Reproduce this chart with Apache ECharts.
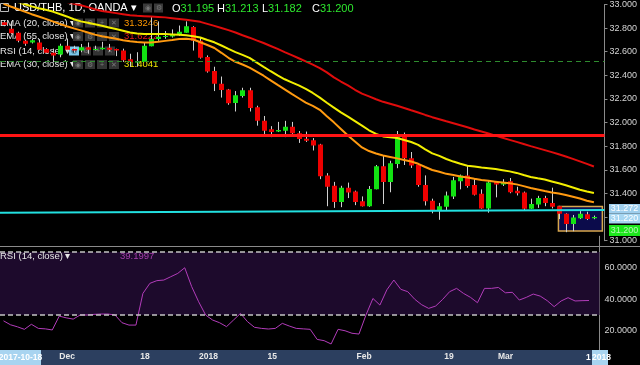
<!DOCTYPE html>
<html><head><meta charset="utf-8">
<script src="https://cdn.jsdelivr.net/npm/echarts/dist/echarts.min.js"></script>
<style>html,body{margin:0;padding:0;background:#000;}#c{width:640px;height:365px;}</style>
</head><body><div id="c"></div>
<script>
const dates = ['2017-11-20','2017-11-21','2017-11-22','2017-11-23','2017-11-24','2017-11-27','2017-11-28','2017-11-29','2017-11-30','2017-12-01',
'2017-12-04','2017-12-05','2017-12-06','2017-12-07','2017-12-08','2017-12-11','2017-12-12','2017-12-13','2017-12-14','2017-12-15',
'2017-12-18','2017-12-19','2017-12-20','2017-12-21','2017-12-22','2017-12-26','2017-12-27','2017-12-28','2017-12-29','2018-01-02',
'2018-01-03','2018-01-04','2018-01-05','2018-01-08','2018-01-09','2018-01-10','2018-01-11','2018-01-12','2018-01-15','2018-01-16',
'2018-01-17','2018-01-18','2018-01-19','2018-01-22','2018-01-23','2018-01-24','2018-01-25','2018-01-26','2018-01-29','2018-01-30',
'2018-01-31','2018-02-01','2018-02-02','2018-02-05','2018-02-06','2018-02-07','2018-02-08','2018-02-09','2018-02-12','2018-02-13',
'2018-02-14','2018-02-15','2018-02-16','2018-02-19','2018-02-20','2018-02-21','2018-02-22','2018-02-23','2018-02-26','2018-02-27',
'2018-02-28','2018-03-01','2018-03-02','2018-03-05','2018-03-06','2018-03-07','2018-03-08','2018-03-09','2018-03-12','2018-03-13',
'2018-03-14','2018-03-15','2018-03-16','2018-03-19','2018-03-20'];

const openP = [32.849,32.794,32.761,32.693,32.679,32.679,32.624,32.591,32.577,32.651,
32.624,32.610,32.638,32.616,32.621,32.633,32.624,32.610,32.536,32.517,
32.514,32.646,32.707,32.726,32.728,32.742,32.761,32.810,32.693,32.555,
32.437,32.330,32.281,32.166,32.226,32.273,32.130,32.015,31.943,31.924,
31.932,31.965,31.910,31.863,31.850,31.814,31.553,31.465,31.328,31.449,
31.416,31.334,31.292,31.435,31.630,31.498,31.649,31.883,31.698,31.644,
31.471,31.339,31.257,31.287,31.375,31.504,31.553,31.471,31.397,31.273,
31.498,31.476,31.504,31.422,31.408,31.270,31.306,31.361,31.320,31.292,
31.229,31.142,31.191,31.224,31.195];
const highP = [32.866,32.857,32.770,32.700,32.710,32.707,32.630,32.627,32.668,32.712,
32.651,32.666,32.679,32.651,32.684,32.666,32.626,32.626,32.583,32.596,
32.674,32.899,32.857,32.775,32.789,32.822,32.857,32.816,32.720,32.569,
32.473,32.390,32.285,32.267,32.295,32.295,32.143,32.056,31.970,32.006,
32.015,32.006,31.929,31.924,31.869,31.820,31.572,31.498,31.465,31.492,
31.424,31.375,31.463,31.641,31.723,31.677,31.929,31.916,31.751,31.650,
31.553,31.356,31.320,31.416,31.540,31.560,31.636,31.521,31.435,31.504,
31.505,31.521,31.531,31.457,31.416,31.356,31.380,31.380,31.449,31.295,
31.232,31.218,31.251,31.245,31.213];
const lowP = [32.816,32.750,32.680,32.650,32.670,32.610,32.585,32.511,32.553,32.596,
32.591,32.596,32.583,32.610,32.618,32.602,32.563,32.514,32.473,32.473,
32.514,32.646,32.693,32.710,32.720,32.734,32.761,32.610,32.542,32.423,
32.267,32.212,32.151,32.094,32.212,32.094,31.974,31.904,31.877,31.920,
31.877,31.904,31.828,31.836,31.764,31.521,31.292,31.278,31.284,31.361,
31.301,31.290,31.287,31.435,31.311,31.410,31.614,31.641,31.616,31.457,
31.298,31.232,31.177,31.257,31.353,31.435,31.449,31.383,31.270,31.237,
31.367,31.463,31.402,31.383,31.259,31.268,31.278,31.292,31.273,31.183,
31.072,31.080,31.183,31.175,31.182];
const closeP = [32.827,32.756,32.693,32.668,32.698,32.616,32.591,32.569,32.651,32.616,
32.610,32.638,32.616,32.624,32.633,32.616,32.610,32.528,32.514,32.518,
32.651,32.707,32.726,32.734,32.748,32.769,32.816,32.693,32.550,32.432,
32.328,32.275,32.163,32.231,32.273,32.124,32.015,31.932,31.921,31.937,
31.965,31.910,31.861,31.847,31.806,31.545,31.457,31.328,31.449,31.408,
31.328,31.292,31.438,31.630,31.498,31.655,31.877,31.698,31.636,31.471,
31.334,31.257,31.292,31.383,31.512,31.553,31.463,31.389,31.273,31.493,
31.476,31.498,31.410,31.402,31.270,31.311,31.361,31.320,31.287,31.229,
31.142,31.196,31.229,31.183,31.200];

const ema20 = [33.005,32.983,32.962,32.940,32.918,32.898,32.878,32.857,32.836,32.816,
32.798,32.781,32.763,32.745,32.731,32.720,32.710,32.698,32.688,32.682,
32.679,32.678,32.684,32.692,32.699,32.707,32.709,32.704,32.680,32.657,
32.632,32.591,32.549,32.515,32.492,32.466,32.432,32.397,32.358,32.319,
32.281,32.243,32.206,32.169,32.142,32.108,32.054,32.002,31.946,31.890,
31.840,31.790,31.759,31.738,31.721,31.709,31.697,31.684,31.670,31.651,
31.624,31.599,31.584,31.566,31.556,31.544,31.535,31.524,31.514,31.507,
31.500,31.493,31.486,31.477,31.462,31.447,31.434,31.420,31.408,31.400,
31.387,31.372,31.357,31.338,31.325];
const ema30 = [33.054,33.037,33.020,33.002,32.984,32.969,32.955,32.940,32.919,32.899,
32.875,32.857,32.845,32.833,32.820,32.806,32.792,32.778,32.763,32.754,
32.750,32.750,32.750,32.750,32.747,32.744,32.739,32.732,32.721,32.699,
32.680,32.653,32.624,32.597,32.573,32.548,32.510,32.472,32.435,32.399,
32.367,32.341,32.315,32.286,32.251,32.211,32.168,32.127,32.086,32.050,
32.012,31.974,31.935,31.904,31.883,31.876,31.869,31.853,31.836,31.811,
31.773,31.739,31.718,31.692,31.670,31.651,31.635,31.628,31.620,31.614,
31.607,31.597,31.587,31.574,31.556,31.539,31.528,31.518,31.502,31.486,
31.469,31.451,31.432,31.416,31.404];
const ema55 = [33.155,33.139,33.124,33.109,33.094,33.079,33.064,33.049,33.035,33.021,
33.007,32.993,32.978,32.960,32.945,32.936,32.927,32.918,32.909,32.904,
32.901,32.898,32.895,32.891,32.884,32.877,32.870,32.863,32.853,32.836,
32.819,32.801,32.783,32.763,32.740,32.719,32.696,32.674,32.649,32.624,
32.597,32.571,32.545,32.518,32.491,32.461,32.425,32.383,32.348,32.315,
32.278,32.245,32.222,32.198,32.176,32.159,32.142,32.124,32.104,32.085,
32.065,32.046,32.029,32.011,31.994,31.977,31.960,31.941,31.924,31.907,
31.890,31.871,31.854,31.837,31.819,31.801,31.784,31.767,31.750,31.732,
31.713,31.693,31.672,31.650,31.628];
const rsi14 = [26.3,23.8,22.5,20.9,24.1,21.5,21.2,20.5,29.3,28.2,
27.4,30.0,30.0,30.4,30.6,30.6,30.0,25.1,23.6,23.6,
43.7,50.1,51.8,52.2,54.3,56.4,60.0,48.0,38.4,30.0,
26.8,25.1,22.6,26.8,31.0,25.8,22.2,21.5,21.1,21.5,
24.7,23.0,21.5,21.2,20.9,14.5,13.7,11.6,20.9,20.0,
18.4,17.9,30.0,40.5,36.3,46.0,52.2,46.3,44.8,40.0,
36.5,34.2,35.7,39.9,44.8,46.9,43.7,41.2,37.8,46.9,
46.9,47.5,44.1,44.4,39.5,41.2,43.3,42.0,39.1,35.3,
38.9,41.0,38.9,39.1,39.2];

const tickLabels = {'2017-12-01':'Dec','2017-12-18':'18','2018-01-02':'2018','2018-01-15':'15','2018-02-01':'Feb','2018-02-19':'19','2018-03-01':'Mar'};
const resistanceLevel = 31.885;
const greenDashedLevel = 32.516;
const cyanTrend = [31.236, 31.259];
const boxZone = {fromIdx: 78.95, toIdx: 85.2, low: 31.082, high: 31.290};
const rsiBands = [30, 70];

const FF = '"Liberation Sans", Arial, sans-serif';
const G = [];
function T(x, y, text, fill, size, extra, z) {
  G.push({type:'text', x:x, y:y, z:(z===undefined?0:z), silent:true,
    style:Object.assign({text:text, fill:fill, fontSize:size, fontFamily:FF, verticalAlign:'middle', align:'left'}, extra||{})});
}
function R(x, y, w, h, fill, z, stroke) {
  G.push({type:'rect', z:(z===undefined?0:z), silent:true, shape:{x:x,y:y,width:w,height:h},
    style:{fill:fill, stroke:stroke||null, lineWidth:stroke?1:0}});
}
function L(x1,y1,x2,y2,stroke,w,z){ G.push({type:'line', z:(z===undefined?0:z), silent:true, shape:{x1:x1,y1:y1,x2:x2,y2:y2}, style:{stroke:stroke, lineWidth:w||1}}); }
const glyphs = ['◉','⚙','+','✕'];
function icons(x, y, hl) {
  for (let k = 0; k < 4; k++) {
    const on = hl && k === 0;
    R(x + 12*k, y - 4.5, 10, 9, on ? '#7cc8ea' : '#343434', 0);
    T(x + 12*k + 5, y + 0.5, glyphs[k], on ? '#1c3c4c' : '#7a7a7a', 7, {align:'center'});
  }
}
// header
R(0.5, 3.5, 8, 8, 'none', 0, '#bbbbbb');
L(2.5, 7.5, 6.5, 7.5, '#bbbbbb', 1);
T(14, 8, 'USD/THB, 1D, OANDA ▾', '#ffffff', 11);
R(143, 3.5, 9, 9, '#3a3a3a'); T(147.5, 8.2, '◉', '#777', 7, {align:'center'});
R(154, 3.5, 9, 9, '#3a3a3a'); T(158.5, 8.2, '⚙', '#777', 7, {align:'center'});
const ohlc = [['O','31.195',172],['H','31.213',217],['L','31.182',262],['C','31.200',312]];
ohlc.forEach(function(o){
  T(o[2], 8.5, '{k|' + o[0] + '}{v|' + o[1] + '}', '#fff', 11,
    {rich:{k:{fill:'#ffffff', fontSize:11, fontFamily:FF}, v:{fill:'#2ee82e', fontSize:11, fontFamily:FF}}});
});
// legends
const rows = [
  ['EMA (20, close) ▾', 23, 73, '31.3246', '#ff9800', false],
  ['EMA (55, close) ▾', 36.5, 73, '31.6222', '#e41b1b', false],
  ['RSI (14, close) ▾', 51, 69, '', '', true],
  ['EMA (30, close) ▾', 64.5, 73, '31.4041', '#f0e800', false]
];
rows.forEach(function(r){
  T(0, r[1], r[0], '#e6e6e6', 9.5);
  icons(r[2], r[1], r[5]);
  if (r[3]) T(124, r[1], r[3], r[4], 9.5);
});
T(0, 256.5, 'RSI (14, close) ▾', '#e6e6e6', 9.5, null, 6);
icons(70, 256.5, false);
T(120, 256.5, '39.1997', '#a53fab', 9.5, null, 6);
// separators, bars, right boxes
L(0, 246.5, 640, 246.5, '#8a8a8a', 1, 6);
R(0, 350, 608, 15, '#2c3f5f', 5);
R(0, 350, 41, 15, '#a8d4f0', 11);
T(20.5, 357.5, '2017-10-18', '#ffffff', 8.5, {align:'center', fontWeight:'bold'}, 12);
T(586, 357.5, '1', '#ffffff', 8.5, {fontWeight:'bold'}, 12);
R(592, 350, 16, 15, '#a8d4f0', 11);
T(592, 357.5, '2018', '#ffffff', 8.5, {fontWeight:'bold'}, 12);
R(609, 204, 31, 9.5, '#9fcfee', 60);
T(624.5, 209, '31.272', '#ffffff', 9, {align:'center'}, 61);
R(609, 213.5, 31, 10, '#a6d6f2', 60);
T(624.5, 218.7, '31.220', '#ffffff', 9, {align:'center'}, 61);
R(609, 225, 31, 11, '#1de61d', 60);
T(624.5, 230.7, '31.200', '#b6f7b6', 9, {align:'center'}, 61);

const candleData = dates.map(function(d, i){ return [i, openP[i], closeP[i], lowP[i], highP[i]]; });
function renderCandle(params, api) {
  const i = api.value(0), o = api.value(1), c = api.value(2), l = api.value(3), h = api.value(4);
  const pO = api.coord([i, o]), pC = api.coord([i, c]), pL = api.coord([i, l]), pH = api.coord([i, h]);
  const cx = Math.round(pO[0]);
  const top = Math.min(pO[1], pC[1]), bot = Math.max(pO[1], pC[1]);
  const up = c >= o;
  return {type:'group', children:[
    {type:'line', shape:{x1:cx+0.5, y1:pH[1], x2:cx+0.5, y2:pL[1]}, style:{stroke:'#d0d0d0', lineWidth:1}},
    {type:'rect', shape:{x:cx-2, y:top, width:5, height:Math.max(bot-top, 1.2)}, style:{fill: up ? '#12e212' : '#ee0000'}}
  ]};
}
const pairs = function(arr){ return arr.map(function(v, i){ return [i, v]; }); };

const option = {
  backgroundColor:'#000000',
  animation:false,
  grid:[
    {left:0, right:32, top:-1.5, height:242.2},
    {left:0, right:32, top:236.25, height:126},
    {left:0, right:32, top:349, height:1}
  ],
  xAxis:[
    {type:'value', gridIndex:0, min:-0.5, max:85.5, show:false},
    {type:'value', gridIndex:1, min:-0.5, max:85.5, show:false},
    {type:'category', gridIndex:2, data:dates.concat(['']), boundaryGap:true, z:10,
      axisLine:{show:false}, axisTick:{show:false}, splitLine:{show:false},
      axisLabel:{margin:2, color:'#e8e8e8', fontSize:8.5, fontWeight:'bold', fontFamily:FF,
        interval:function(idx, val){ return tickLabels.hasOwnProperty(val); },
        formatter:function(val){ return tickLabels[val] || ''; }}}
  ],
  yAxis:[
    {type:'value', gridIndex:0, position:'right', min:31, max:33, interval:0.2,
      axisLine:{show:true, onZero:false, lineStyle:{color:'#8a8a8a'}},
      axisTick:{show:true, length:3, lineStyle:{color:'#8a8a8a'}},
      splitLine:{show:false},
      axisLabel:{color:'#d4d4d4', fontSize:9, margin:5, fontFamily:FF, formatter:function(v){ return v.toFixed(3); }}},
    {type:'value', gridIndex:1, position:'right', min:0, max:80, interval:20,
      axisLine:{show:true, onZero:false, lineStyle:{color:'#8a8a8a'}},
      axisTick:{show:false}, splitLine:{show:false},
      axisLabel:{color:'#d4d4d4', fontSize:9, margin:5, fontFamily:FF, formatter:function(v){ return (v > 0 && v < 80) ? v.toFixed(4) : ''; }}},
    {type:'value', gridIndex:2, show:false}
  ],
  series:[
    {type:'line', xAxisIndex:0, yAxisIndex:0, data:[], z:1, silent:true,
      markArea:{silent:true, itemStyle:{color:'#0b0b4b', borderColor:'#d7a74c', borderWidth:1.5},
        data:[[{xAxis:boxZone.fromIdx, yAxis:boxZone.high},{xAxis:boxZone.toIdx, yAxis:boxZone.low}]]}},
    {type:'line', xAxisIndex:0, yAxisIndex:0, data:[], z:2, silent:true,
      markLine:{silent:true, symbol:['none','none'], label:{show:false},
        lineStyle:{color:'#22e0e0', width:2, type:'solid'},
        data:[[{coord:[-0.5, cyanTrend[0]]},{coord:[85.5, cyanTrend[1]]}]]}},
    {type:'custom', xAxisIndex:0, yAxisIndex:0, z:3, renderItem:renderCandle, data:candleData,
      encode:{x:0, y:[1,2,3,4]}, clip:true, silent:true},
    {type:'line', xAxisIndex:0, yAxisIndex:0, z:4, data:pairs(ema55), showSymbol:false, silent:true, clip:true,
      lineStyle:{color:'#e00c0c', width:2}},
    {type:'line', xAxisIndex:0, yAxisIndex:0, z:4, data:pairs(ema30), showSymbol:false, silent:true, clip:true,
      lineStyle:{color:'#f2ee00', width:2}},
    {type:'line', xAxisIndex:0, yAxisIndex:0, z:4, data:pairs(ema20), showSymbol:false, silent:true, clip:true,
      lineStyle:{color:'#ff9a10', width:2}},
    {type:'line', xAxisIndex:0, yAxisIndex:0, data:[], z:5, silent:true,
      markLine:{silent:true, symbol:['none','none'], label:{show:false},
        data:[
          {yAxis:resistanceLevel, lineStyle:{color:'#ff1414', width:3, type:'solid'}},
          {yAxis:greenDashedLevel, lineStyle:{color:'#2e8b2e', width:1, type:[5,4]}}
        ]}},
    {type:'line', xAxisIndex:1, yAxisIndex:1, data:[], z:1, silent:true,
      markArea:{silent:true, itemStyle:{color:'#1d0a2c'}, data:[[{yAxis:rsiBands[0]},{yAxis:rsiBands[1]}]]},
      markLine:{silent:true, symbol:['none','none'], label:{show:false},
        lineStyle:{color:'#c4c4c4', width:1.5, type:[5,3]},
        data:[{yAxis:rsiBands[1]},{yAxis:rsiBands[0]}]}},
    {type:'line', xAxisIndex:1, yAxisIndex:1, z:3, data:pairs(rsi14), showSymbol:false, silent:true,
      lineStyle:{color:'#b23cba', width:1}}
  ],
  graphic:{elements:G}
};
const chart = echarts.init(document.getElementById('c'), null, {renderer:'canvas'});
chart.setOption(option);
</script>
</body></html>
